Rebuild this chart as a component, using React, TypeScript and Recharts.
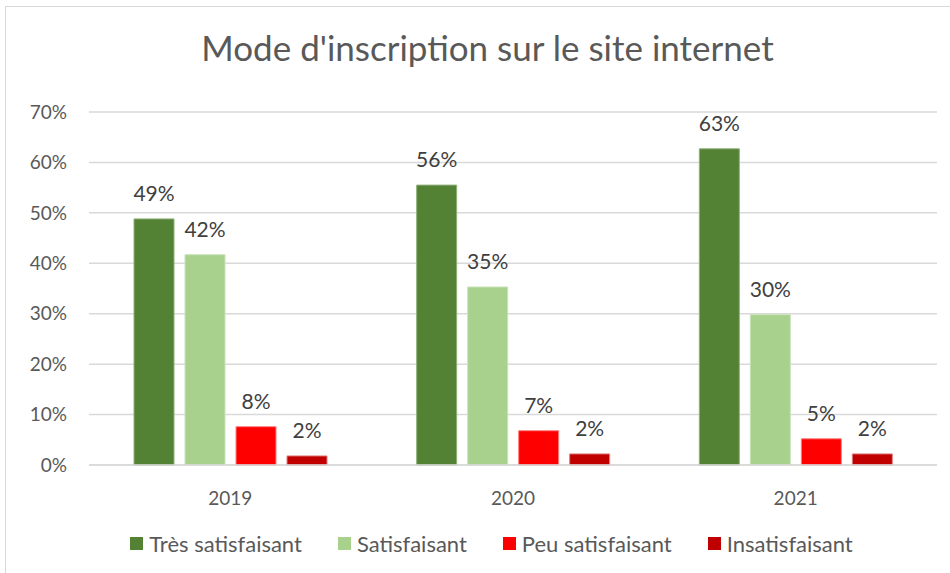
import React from 'react';
import { BarChart, Bar, XAxis, YAxis, CartesianGrid, Legend, LabelList } from 'recharts';

const years = ['2019', '2020', '2021'];
const tresSatisfaisant = [48.8, 55.5, 62.7];
const satisfaisant = [41.7, 35.3, 29.8];
const peuSatisfaisant = [7.6, 6.8, 5.2];
const insatisfaisant = [1.8, 2.2, 2.2];
const yTicks = [0, 10, 20, 30, 40, 50, 60, 70];

const series = [
  { key: 'tres', name: 'Très satisfaisant', color: '#548235', stroke: '#8fb07a' },
  { key: 'sat', name: 'Satisfaisant', color: '#A9D18E', stroke: '#c9e2b8' },
  { key: 'peu', name: 'Peu satisfaisant', color: '#FF0000', stroke: '#ff8080' },
  { key: 'insat', name: 'Insatisfaisant', color: '#C00000', stroke: '#e08080' },
];

const data = years.map((year, i) => ({
  year,
  tres: tresSatisfaisant[i],
  sat: satisfaisant[i],
  peu: peuSatisfaisant[i],
  insat: insatisfaisant[i],
}));

const FONT = 'Lato, "Open Sans", sans-serif';

const LegendContent = () => (
  <div style={{ display: 'flex', justifyContent: 'center', fontFamily: FONT, fontSize: 22, color: '#595959', marginLeft: 82, marginTop: 2 }}>
    {series.map((s) => (
      <div key={s.key} style={{ display: 'flex', alignItems: 'center', marginRight: 36 }}>
        <span style={{ width: 13, height: 13, background: s.color, marginRight: 6, display: 'inline-block' }} />
        <span>{s.name}</span>
      </div>
    ))}
  </div>
);

export default function App() {
  return (
    <div
      style={{
        position: 'absolute',
        left: 0,
        top: 0,
        width: 950,
        height: 573,
        background: '#fff',
        overflow: 'hidden',
      }}
    >
      <div
        style={{
          position: 'absolute',
          left: 5,
          top: 6,
          width: 960,
          height: 580,
          borderLeft: '1px solid #d9d9d9',
          borderTop: '1px solid #d9d9d9',
        }}
      />
      <div
        style={{
          position: 'absolute',
          left: 0,
          top: 26,
          width: 975,
          textAlign: 'center',
          fontFamily: FONT,
          fontSize: 35,
          color: '#595959',
        }}
      >
        Mode d'inscription sur le site internet
      </div>
      <div style={{ position: 'absolute', left: 0, top: 0 }}>
        <BarChart
          width={950}
          height={573}
          data={data}
          margin={{ top: 112, right: 13, left: 0, bottom: 16 }}
          barSize={40}
          barGap={11}
        >
          <CartesianGrid vertical={false} stroke="#d9d9d9" strokeWidth={1.5} />
          <XAxis
            dataKey="year"
            axisLine={{ stroke: '#d9d9d9', strokeWidth: 1.5 }}
            tickLine={false}
            tickMargin={21}
            height={63}
            tick={{ fill: '#595959', fontSize: 19, fontFamily: FONT }}
          />
          <YAxis
            width={89}
            domain={[0, 70]}
            ticks={yTicks}
            axisLine={false}
            tickLine={false}
            tickMargin={16}
            tickFormatter={(v) => `${v}%`}
            tick={{ fill: '#595959', fontSize: 19, fontFamily: FONT }}
          />
          <Legend verticalAlign="bottom" content={LegendContent} />
          {series.map((s) => (
            <Bar
              key={s.key}
              dataKey={s.key}
              name={s.name}
              fill={s.color}
              stroke={s.stroke}
              strokeWidth={1}
              isAnimationActive={false}
            >
              <LabelList
                dataKey={s.key}
                position="top"
                offset={18}
                formatter={(v: number) => `${Math.round(v)}%`}
                style={{ fill: '#404040', fontSize: 21, fontFamily: FONT }}
              />
            </Bar>
          ))}
        </BarChart>
      </div>
    </div>
  );
}
